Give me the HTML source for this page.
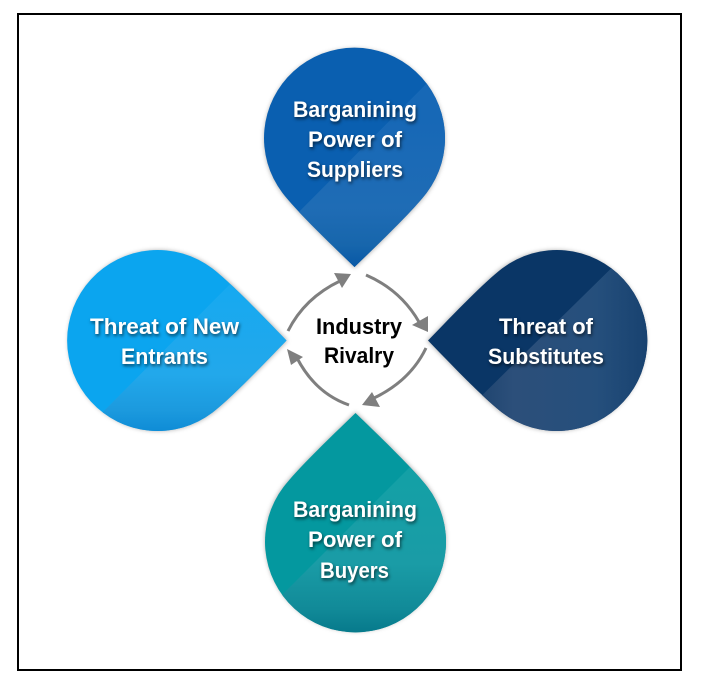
<!DOCTYPE html>
<html>
<head>
<meta charset="utf-8">
<style>
html,body{margin:0;padding:0;background:#fff;width:703px;height:687px;overflow:hidden}
svg{display:block}
text{font-family:"Liberation Sans",sans-serif;font-weight:bold;font-size:22px;text-anchor:start}
.w{fill:#fff;filter:drop-shadow(1px 2px 1.5px rgba(0,0,0,.6))}
.k{fill:#000}
.drop{filter:drop-shadow(0 1.5px 2px rgba(0,0,0,.3))}
.arc{fill:none;stroke:#7f7f7f;stroke-width:3}
.head{fill:#7f7f7f}
</style>
</head>
<body>
<svg width="703" height="687" viewBox="0 0 703 687" xmlns="http://www.w3.org/2000/svg">
<defs>
<path id="d" d="M0,0 C-28,-27 -58,-56 -72,-74 A90.500,90.500 0 1 1 72,-74 C58,-56 28,-27 0,0 Z"/>
<clipPath id="c1"><use href="#d" transform="translate(354.5,267)"/></clipPath>
<clipPath id="c2"><use href="#d" transform="translate(286.500,340.500) rotate(-90)"/></clipPath>
<clipPath id="c3"><use href="#d" transform="translate(428,340.500) rotate(90)"/></clipPath>
<clipPath id="c4"><use href="#d" transform="translate(355.500,413) rotate(180)"/></clipPath>
<linearGradient id="g1" gradientUnits="userSpaceOnUse" x1="0" y1="120" x2="0" y2="267">
<stop offset="0" stop-color="#1768b6"/><stop offset=".6" stop-color="#1f6cb5"/><stop offset=".85" stop-color="#1766ac"/><stop offset="1" stop-color="#0858a6"/>
</linearGradient>
<linearGradient id="g2" gradientUnits="userSpaceOnUse" x1="0" y1="290" x2="0" y2="431">
<stop offset="0" stop-color="#17a9f0"/><stop offset=".6" stop-color="#22a8eb"/><stop offset=".85" stop-color="#1c9ade"/><stop offset="1" stop-color="#0f8cd6"/>
</linearGradient>
<linearGradient id="g3" gradientUnits="userSpaceOnUse" x1="480" y1="0" x2="647" y2="0">
<stop offset="0" stop-color="#1f4570"/><stop offset=".2" stop-color="#2c4f7a"/><stop offset=".7" stop-color="#254f7c"/><stop offset="1" stop-color="#184270"/>
</linearGradient>
<linearGradient id="g4" gradientUnits="userSpaceOnUse" x1="0" y1="480" x2="0" y2="632">
<stop offset="0" stop-color="#14a0a6"/><stop offset=".55" stop-color="#1a9ca6"/><stop offset=".85" stop-color="#118a98"/><stop offset="1" stop-color="#077a8c"/>
</linearGradient>
</defs>

<rect x="18" y="14" width="663" height="656" fill="#fff" stroke="#000" stroke-width="2"/>

<!-- top -->
<use href="#d" class="drop" fill="#0a5fb0" transform="translate(354.5,267)"/>
<polygon clip-path="url(#c1)" points="278,233 447,63 470,63 470,280 278,280" fill="url(#g1)"/>
<!-- left -->
<use href="#d" class="drop" fill="#0ba5ef" transform="translate(286.500,340.500) rotate(-90)"/>
<polygon clip-path="url(#c2)" points="87,428 252,262 300,262 300,440 87,440" fill="url(#g2)"/>
<!-- right -->
<use href="#d" class="drop" fill="#0a3666" transform="translate(428,340.500) rotate(90)"/>
<polygon clip-path="url(#c3)" points="462,415 637,243 660,243 660,440 462,440" fill="url(#g3)"/>
<!-- bottom -->
<use href="#d" class="drop" fill="#04989f" transform="translate(355.500,413) rotate(180)"/>
<polygon clip-path="url(#c4)" points="265,612 437,440 460,440 460,640 265,640" fill="url(#g4)"/>

<!-- arrows -->
<path class="arc" d="M288,331 C299,309 317,292 340,281"/>
<polygon class="head" points="334,273 351,274 342,288"/>
<path class="arc" d="M366,275 C389,285 407,301 419,322"/>
<polygon class="head" points="412,325 428,316 428,332"/>
<path class="arc" d="M426,348 C415,371 397,387 374,398"/>
<polygon class="head" points="372,392 380,407 362,405"/>
<path class="arc" d="M349,405 C326,397 309,381 297,358"/>
<polygon class="head" points="287,349 303,357 291,365"/>

<!-- labels -->
<text class="w" x="293" y="117" textLength="124" lengthAdjust="spacingAndGlyphs">Barganining</text>
<text class="w" x="308" y="147" textLength="94" lengthAdjust="spacingAndGlyphs">Power of</text>
<text class="w" x="307" y="177" textLength="96" lengthAdjust="spacingAndGlyphs">Suppliers</text>

<text class="w" x="90" y="334" textLength="149" lengthAdjust="spacingAndGlyphs">Threat of New</text>
<text class="w" x="121" y="364" textLength="87" lengthAdjust="spacingAndGlyphs">Entrants</text>

<text class="w" x="499" y="334" textLength="94" lengthAdjust="spacingAndGlyphs">Threat of</text>
<text class="w" x="488" y="364" textLength="116" lengthAdjust="spacingAndGlyphs">Substitutes</text>

<text class="w" x="293" y="517" textLength="124" lengthAdjust="spacingAndGlyphs">Barganining</text>
<text class="w" x="308" y="547" textLength="94" lengthAdjust="spacingAndGlyphs">Power of</text>
<text class="w" x="320" y="578" textLength="69" lengthAdjust="spacingAndGlyphs">Buyers</text>

<text class="k" x="316" y="334" textLength="86" lengthAdjust="spacingAndGlyphs">Industry</text>
<text class="k" x="324" y="363" textLength="70" lengthAdjust="spacingAndGlyphs">Rivalry</text>
</svg>
</body>
</html>
